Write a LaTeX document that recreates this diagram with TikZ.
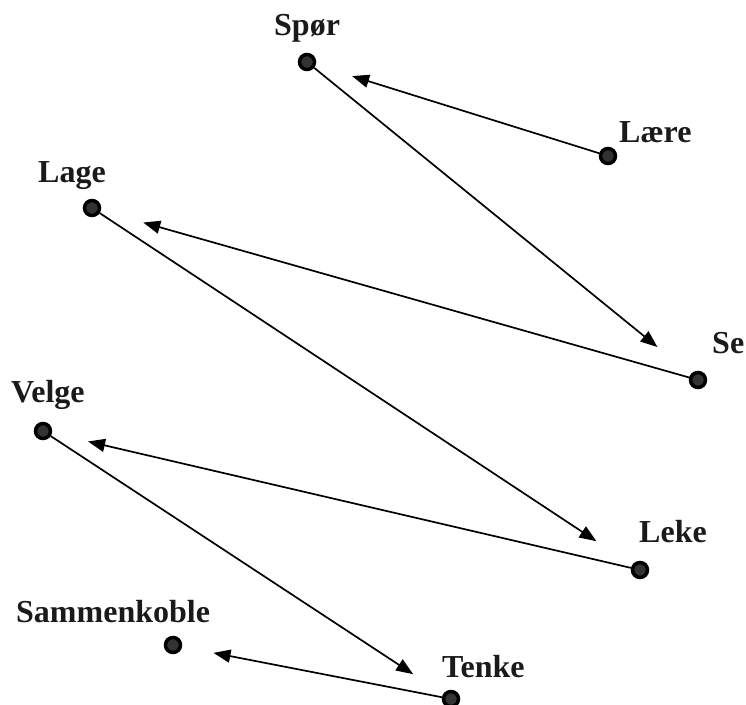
\documentclass[tikz,border=0pt]{standalone}
\usepackage{fontspec}
\setmainfont{Liberation Serif}
\usetikzlibrary{arrows.meta}
\definecolor{dotfill}{HTML}{333333}
\definecolor{txt}{HTML}{1a1a1a}
\tikzset{
  dot/.style={circle, draw=black, line width=3.5pt, fill=dotfill, minimum size=15pt, inner sep=0pt},
  lbl/.style={anchor=base west, inner sep=0pt, text=txt, font=\bfseries\fontsize{32}{38}\selectfont},
  conn/.style={line width=1.7pt, -{Triangle[length=17pt,width=13pt]}}
}
\begin{document}
\begin{tikzpicture}[x=1pt,y=-1pt]
\useasboundingbox (0,0) rectangle (746,704);
% dots
\node[dot] (spor) at (307,62) {};
\node[dot] (laere) at (608,156) {};
\node[dot] (lage) at (92,208) {};
\node[dot] (se) at (698,380) {};
\node[dot] (velge) at (43,431) {};
\node[dot] (leke) at (640,570) {};
\node[dot] (samm) at (173,645) {};
\node[dot] (tenke) at (451,699) {};
% labels
\node[lbl] (tspor) at (274,35) {Spør};
\node[lbl] (tlaere) at (619,142) {Lære};
\node[lbl] (tlage) at (38,182) {Lage};
\node[lbl] (tse) at (712,353) {Se};
\node[lbl] (tvelge) at (11,402) {Velge};
\node[lbl] (tleke) at (639,542) {Leke};
\node[lbl] (tsamm) at (16,622) {Sammenkoble};
\node[lbl] (ttenke) at (442,677) {Tenke};
% connectors
\draw[conn, shorten >=38pt] (laere) -- (spor);
\draw[conn, shorten >=43pt] (spor) -- (se);
\draw[conn, shorten >=44pt] (se) -- (lage);
\draw[conn, shorten >=43pt] (lage) -- (leke);
\draw[conn, shorten >=37pt] (leke) -- (velge);
\draw[conn, shorten >=36pt] (velge) -- (tenke);
\draw[conn, shorten >=32pt] (tenke) -- (samm);
\end{tikzpicture}
\end{document}
